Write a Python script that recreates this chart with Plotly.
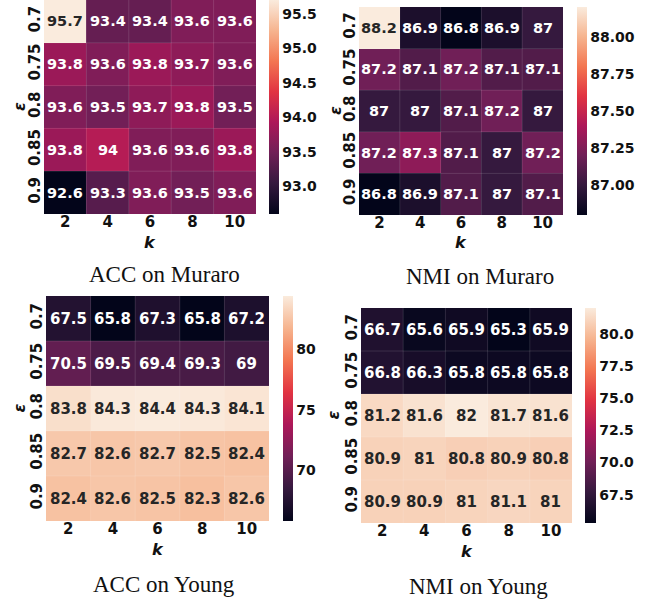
import plotly.graph_objects as go

# ---------------- data ----------------
k_labels = ["2", "4", "6", "8", "10"]
eps_labels = ["0.7", "0.75", "0.8", "0.85", "0.9"]

acc_muraro = [
    [95.7, 93.4, 93.4, 93.6, 93.6],
    [93.8, 93.6, 93.8, 93.7, 93.6],
    [93.6, 93.5, 93.7, 93.8, 93.5],
    [93.8, 94.0, 93.6, 93.6, 93.8],
    [92.6, 93.3, 93.6, 93.5, 93.6],
]
nmi_muraro = [
    [88.2, 86.9, 86.8, 86.9, 87.0],
    [87.2, 87.1, 87.2, 87.1, 87.1],
    [87.0, 87.0, 87.1, 87.2, 87.0],
    [87.2, 87.3, 87.1, 87.0, 87.2],
    [86.8, 86.9, 87.1, 87.0, 87.1],
]
acc_young = [
    [67.5, 65.8, 67.3, 65.8, 67.2],
    [70.5, 69.5, 69.4, 69.3, 69.0],
    [83.8, 84.3, 84.4, 84.3, 84.1],
    [82.7, 82.6, 82.7, 82.5, 82.4],
    [82.4, 82.6, 82.5, 82.3, 82.6],
]
nmi_young = [
    [66.7, 65.6, 65.9, 65.3, 65.9],
    [66.8, 66.3, 65.8, 65.8, 65.8],
    [81.2, 81.6, 82.0, 81.7, 81.6],
    [80.9, 81.0, 80.8, 80.9, 80.8],
    [80.9, 80.9, 81.0, 81.1, 81.0],
]

cbar_ticks_acc_muraro = [93.0, 93.5, 94.0, 94.5, 95.0, 95.5]
cbar_ticks_nmi_muraro = [87.00, 87.25, 87.50, 87.75, 88.00]
cbar_ticks_acc_young = [70, 75, 80]
cbar_ticks_nmi_young = [67.5, 70.0, 72.5, 75.0, 77.5, 80.0]

titles = ["ACC on Muraro", "NMI on Muraro", "ACC on Young", "NMI on Young"]

# ---------------- style ----------------
W, H = 647, 600
rocket_hex = ["#03051a", "#35193e", "#701f57", "#ad1759", "#e13342",
              "#f37651", "#f6b48f", "#faebdd"]
rocket_pos = [0, 1/7, 2/7, 3/7, 4/7, 5/7, 6/7, 1]
rocket = [[p, c] for p, c in zip(rocket_pos, rocket_hex)]


def hex_rgb(h):
    h = h.lstrip("#")
    return [int(h[i:i + 2], 16) / 255 for i in (0, 2, 4)]


def cmap(t):
    t = min(max(t, 0), 1)
    for i in range(len(rocket_pos) - 1):
        if rocket_pos[i] <= t <= rocket_pos[i + 1]:
            f = (t - rocket_pos[i]) / (rocket_pos[i + 1] - rocket_pos[i])
            a, b = hex_rgb(rocket_hex[i]), hex_rgb(rocket_hex[i + 1])
            return [a[j] + f * (b[j] - a[j]) for j in range(3)]
    return hex_rgb(rocket_hex[-1])


def lum(rgb):
    lin = [c / 12.92 if c <= 0.03928 else ((c + 0.055) / 1.055) ** 2.4 for c in rgb]
    return 0.2126 * lin[0] + 0.7152 * lin[1] + 0.0722 * lin[2]


FONT = "DejaVu Sans"
AXFONT = dict(family=FONT, size=15, color="#111", weight="bold")
CBFONT = dict(family=FONT, size=14, color="#111", weight="bold")

panels = [
    dict(z=acc_muraro, ticks=cbar_ticks_acc_muraro, fmt="{:.1f}", title=titles[0],
         heat=(44, 0, 256, 214), cbar=(269, 0, 279, 214), tpos=(164, 275),
         epsx=19, ky=242, afs=14.5),
    dict(z=nmi_muraro, ticks=cbar_ticks_nmi_muraro, fmt="{:.2f}", title=titles[1],
         heat=(359, 7, 563, 215), cbar=(577, 7, 587, 215), tpos=(480, 276),
         epsx=335, ky=242, afs=14.5),
    dict(z=acc_young, ticks=cbar_ticks_acc_young, fmt="{:d}", title=titles[2],
         heat=(46, 296, 269, 521), cbar=(283, 296, 293, 521), tpos=(164, 584),
         epsx=19, ky=549, afs=15),
    dict(z=nmi_young, ticks=cbar_ticks_nmi_young, fmt="{:.1f}", title=titles[3],
         heat=(361, 308, 572, 523), cbar=(585, 308, 596, 523), tpos=(479, 586),
         epsx=333, ky=551, afs=15),
]

fig = go.Figure()
annotations = []
shapes = []
layout = {}

for i, p in enumerate(panels):
    n = "" if i == 0 else str(i + 1)
    xa, ya = "x" + n, "y" + n
    x0, y0, x1, y1 = p["heat"]
    cx0, cy0, cx1, cy1 = p["cbar"]
    z = p["z"]
    zmin = min(min(r) for r in z)
    zmax = max(max(r) for r in z)
    fig.add_trace(go.Heatmap(
        z=z, x=k_labels, y=eps_labels, xaxis=xa, yaxis=ya,
        colorscale=rocket, zmin=zmin, zmax=zmax, hoverinfo="skip",
        colorbar=dict(
            x=cx0 / W, xanchor="left", y=1 - cy0 / H, yanchor="top",
            len=cy1 - cy0, lenmode="pixels",
            thickness=cx1 - cx0, thicknessmode="pixels",
            xpad=0, ypad=0, outlinewidth=0, ticks="",
            tickmode="array", tickvals=p["ticks"],
            ticktext=["<b>" + p["fmt"].format(t) + "</b>" for t in p["ticks"]],
            tickfont=CBFONT,
        ),
    ))
    layout["xaxis" + n] = dict(
        domain=[x0 / W, x1 / W], anchor=ya, type="category",
        range=[-0.5, 4.5], showgrid=False, zeroline=False, showline=False,
        ticks="", tickmode="array", tickvals=k_labels,
        ticktext=["<b>" + s + "</b>" for s in k_labels],
        tickfont=AXFONT, ticklabelstandoff=-3, fixedrange=True,
    )
    layout["yaxis" + n] = dict(
        domain=[1 - y1 / H, 1 - y0 / H], anchor=xa, type="category",
        range=[4.5, -0.5], showgrid=False, zeroline=False, showline=False,
        ticks="", tickangle=-90, tickmode="array", tickvals=eps_labels,
        ticktext=["<b>" + s + "</b>" for s in eps_labels],
        tickfont=AXFONT, fixedrange=True,
    )
    # cell values (category index positions)
    for r in range(len(eps_labels)):
        for c in range(len(k_labels)):
            v = z[r][c]
            t = (v - zmin) / (zmax - zmin)
            col = "#262626" if lum(cmap(t)) > 0.408 else "white"
            annotations.append(dict(
                x=c, y=r, xref=xa, yref=ya, text=f"<b>{round(v, 1):g}</b>",
                showarrow=False, xanchor="center", yanchor="middle",
                font=dict(family=FONT, size=p["afs"], color=col, weight="bold"),
            ))
    # faint cell edges
    for j in range(1, 5):
        shapes.append(dict(type="line", xref=xa, yref=ya, x0=j - 0.5, x1=j - 0.5,
                           y0=-0.5, y1=4.5,
                           line=dict(color="rgba(255,255,255,0.13)", width=1)))
        shapes.append(dict(type="line", xref=xa, yref=ya, y0=j - 0.5, y1=j - 0.5,
                           x0=-0.5, x1=4.5,
                           line=dict(color="rgba(255,255,255,0.13)", width=1)))
    # axis labels
    annotations.append(dict(
        x=(x0 + x1) / 2 / W, y=1 - p["ky"] / H, xref="paper", yref="paper",
        text="<b><i>k</i></b>", showarrow=False, xanchor="center", yanchor="middle",
        font=dict(family=FONT, size=16, color="#111"),
    ))
    annotations.append(dict(
        x=p["epsx"] / W, y=1 - (y0 + y1) / 2 / H, xref="paper", yref="paper",
        text="<b><i>ε</i></b>", showarrow=False, textangle=-90,
        xanchor="center", yanchor="middle",
        font=dict(family=FONT, size=16, color="#111"),
    ))
    # panel caption
    annotations.append(dict(
        x=p["tpos"][0] / W, y=1 - p["tpos"][1] / H, xref="paper", yref="paper",
        text=p["title"], showarrow=False, xanchor="center", yanchor="middle",
        font=dict(family="Liberation Serif", size=23, color="#111"),
    ))

fig.update_layout(
    width=W, height=H, autosize=False,
    margin=dict(l=0, r=0, t=0, b=0, pad=0),
    paper_bgcolor="white", plot_bgcolor="white",
    showlegend=False,
    annotations=annotations, shapes=shapes,
    **layout,
)

fig.write_html("out.html", config={"displayModeBar": False},
               post_script="document.body.style.margin='0px';")
